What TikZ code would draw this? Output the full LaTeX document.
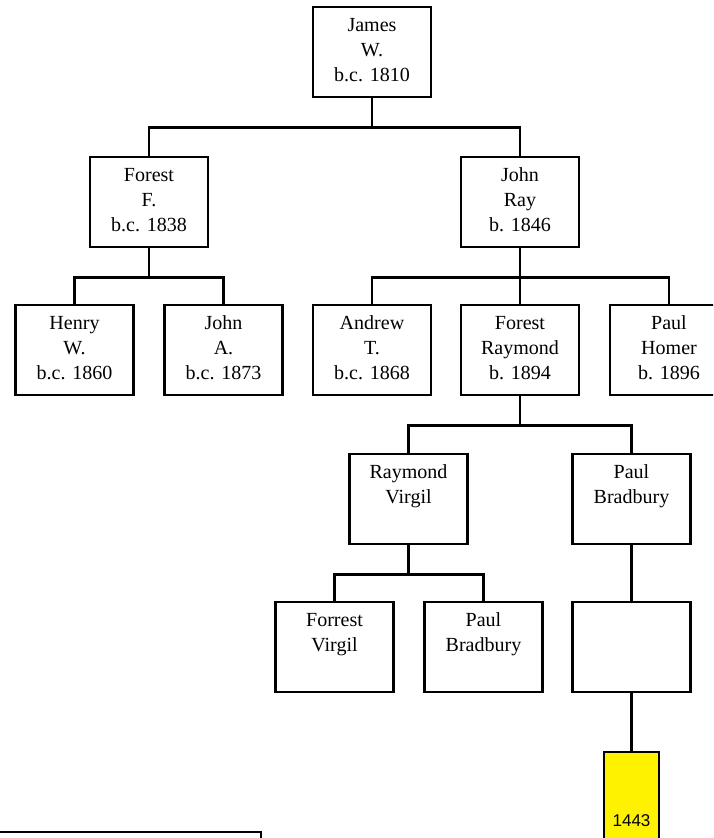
\documentclass[tikz,border=0pt]{standalone}
\usepackage{fontspec}
\setmainfont{Liberation Serif}
\newfontfamily\yearfont{Liberation Sans}
\newcommand{\famtext}[1]{\parbox[c][1.8cm][t]{2.36cm}{\centering\rule{0pt}{14.2pt}#1}}
\tikzset{
  person/.style={draw, line width=1.5pt, inner sep=0pt, minimum width=2.36cm, minimum height=1.8cm,
    font=\fontsize{11.4pt}{14.2pt}\selectfont},
  famline/.style={line width=1.5pt, to path={(\tikztostart) -- ++(0,29) -| (\tikztotarget)}},
}
\begin{document}
\begin{tikzpicture}[x=0.02cm, y=-0.02cm]
                \clip (0,0) rectangle (713,838);
                \node[person] (james) at (372,52) {\famtext{James\\W.\\b.c. 1810}};
                \node[person] (forestf) at (149,202) {\famtext{Forest\\F.\\b.c. 1838}};
                \node[person] (johnray) at (520,202) {\famtext{John\\Ray\\b. 1846}};
                \node[person] (henry) at (74.5,350) {\famtext{Henry\\W.\\b.c. 1860}};
                \node[person] (johna) at (223.5,350) {\famtext{John\\A.\\b.c. 1873}};
                \node[person] (andrew) at (372,350) {\famtext{Andrew\\T.\\b.c. 1868}};
                \node[person] (forestr) at (520,350) {\famtext{Forest\\Raymond\\b. 1894}};
                \node[person] (paulh) at (669,350) {\famtext{Paul\\Homer\\b. 1896}};
                \node[person] (raymondv) at (408.5,499) {\famtext{Raymond\\Virgil}};
                \node[person] (paulb) at (631.5,499) {\famtext{Paul\\Bradbury}};
                \node[person] (forrestv) at (334.5,647) {\famtext{Forrest\\Virgil}};
                \node[person] (paulbb) at (483.5,647) {\famtext{Paul\\Bradbury}};
                \node[person] (blank) at (631.5,647) {};
                \node[draw, line width=1.5pt, fill=yellow, inner sep=0pt, minimum width=1.1cm, minimum height=2.76cm,
                  font=\yearfont\fontsize{9.7pt}{11pt}\selectfont] (year) at (631.5,821) {1443};
                % family lines
                \draw[famline] (james.south) to (forestf.north);
                \draw[famline] (james.south) to (johnray.north);
                \draw[famline] (forestf.south) to (henry.north);
                \draw[famline] (forestf.south) to (johna.north);
                \draw[famline] (johnray.south) to (andrew.north);
                \draw[famline] (johnray.south) to (forestr.north);
                \draw[famline] (johnray.south) to (paulh.north);
                \draw[famline] (forestr.south) to (raymondv.north);
                \draw[famline] (forestr.south) to (paulb.north);
                \draw[famline] (raymondv.south) to (forrestv.north);
                \draw[famline] (raymondv.south) to (paulbb.north);
                \draw[line width=1.5pt] (paulb.south) -- (blank.north);
                \draw[line width=1.5pt] (blank.south) -- (year.north);
                \draw[line width=1.5pt] (-20,832) rectangle (261,900);
\end{tikzpicture}
\end{document}
